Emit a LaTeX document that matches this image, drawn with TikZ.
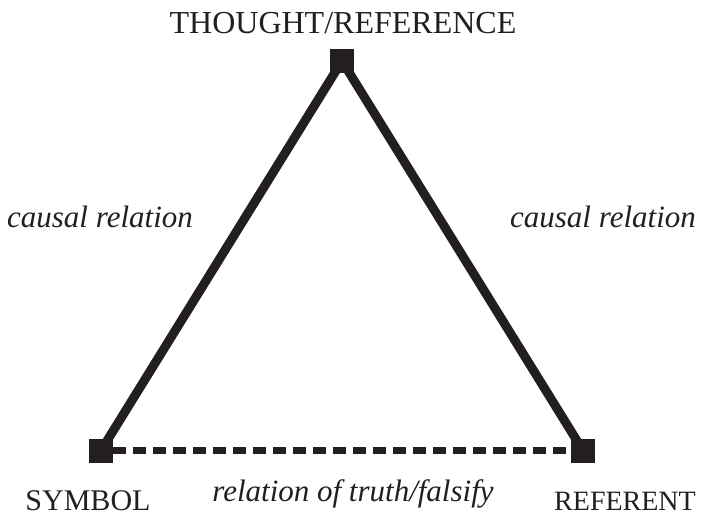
\documentclass[tikz,border=0pt]{standalone}
\usepackage{fontspec}
\setmainfont{Liberation Serif}
\definecolor{ink}{HTML}{231F20}
\begin{document}
\begin{tikzpicture}[x=1pt,y=-1pt,
  corner/.style={draw=none,fill=ink,minimum size=24pt,inner sep=0pt},
  side/.style={draw=ink,line width=9pt},
  base/.style={draw=ink,line width=7pt,dash pattern=on 13pt off 7pt},
  caps/.style={text=ink,inner sep=0pt,anchor=base,font=\fontsize{30}{30}\selectfont},
  note/.style={text=ink,inner sep=0pt,anchor=base,font=\fontsize{31}{31}\selectfont\itshape}]
  \useasboundingbox (0,0) rectangle (702,517);
  % corners of the triangle
  \coordinate (t) at (342,61);
  \coordinate (l) at (101,450.5);
  \coordinate (r) at (583,450.5);
  % sides
  \draw[side] (l) -- (t) -- (r);
  \draw[base] ([xshift=12pt]l) -- ([xshift=-12pt]r);
  \node[corner] (top) at (t) {};
  \node[corner] (sym) at (l) {};
  \node[corner] (ref) at (r) {};
  % labels
  \node[caps,font=\fontsize{32}{32}\selectfont] (tl) at (343,33) {THOUGHT/REFERENCE};
  \node[caps] (sl) at (88,510) {SYMBOL};
  \node[caps,font=\fontsize{28}{28}\selectfont] (rl) at (625,510) {REFERENT};
  \node[note] (cl) at (100,227) {causal relation};
  \node[note] (cr) at (603,227) {causal relation};
  \node[note] (bl) at (353,501) {relation of truth/falsify};
\end{tikzpicture}
\end{document}
